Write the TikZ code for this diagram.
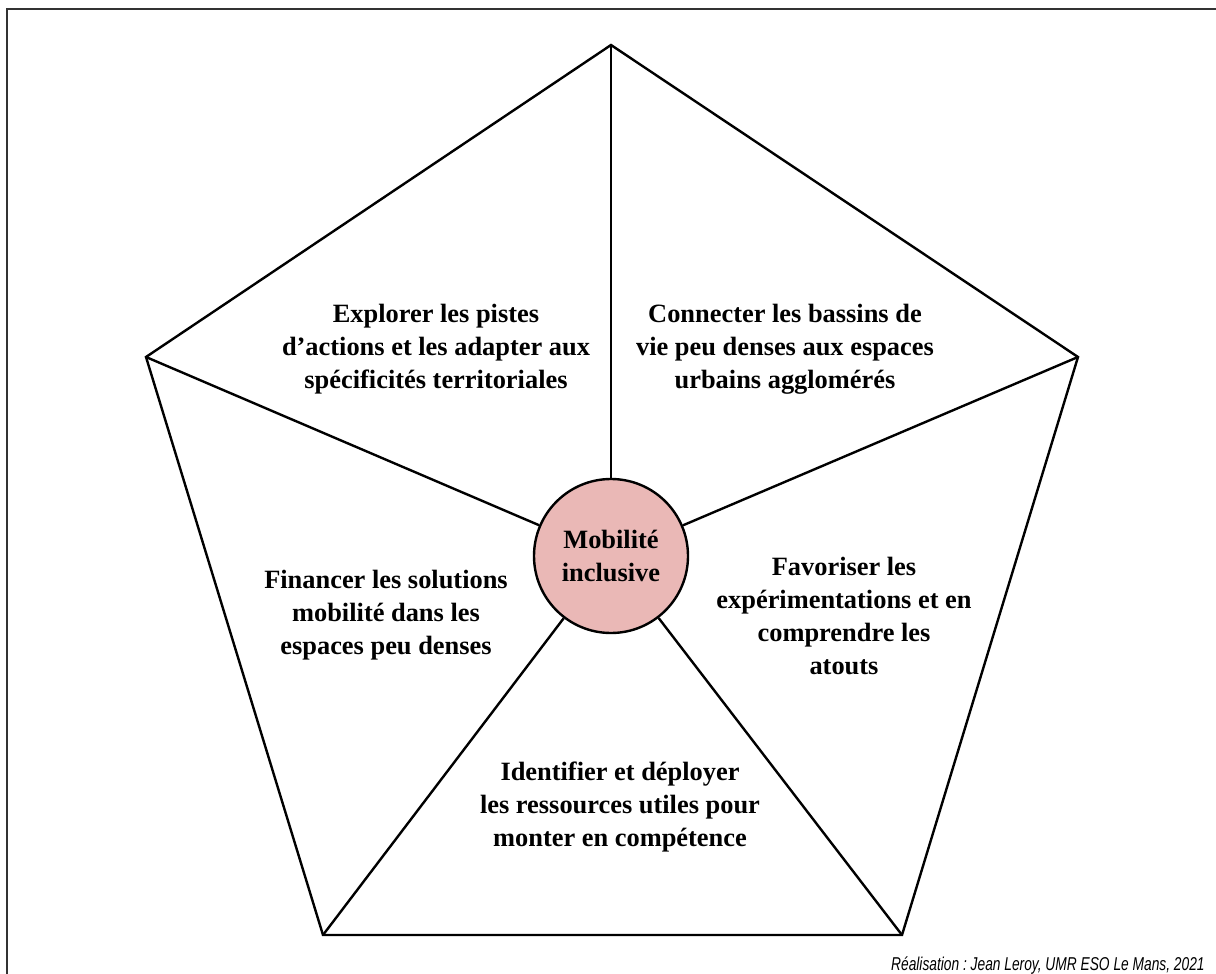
\documentclass[tikz,border=0pt]{standalone}
\usepackage{fontspec}
\setmainfont{Liberation Serif}
\newfontfamily\creditfont[FakeStretch=0.74]{Liberation Sans}
\usetikzlibrary{positioning}
\definecolor{hubpink}{RGB}{234,184,182}
\tikzset{
  axe/.style={font=\bfseries\fontsize{13.2pt}{16.5pt}\selectfont, align=center},
  spoke/.style={line width=1.2pt, line join=miter},
}

\begin{document}
\frenchspacing
\begin{tikzpicture}[x=0.5pt,y=-0.5pt]
  \useasboundingbox (0,0) rectangle (1216,974);

  % cadre
  \draw[line width=1.2pt, black!80] (7,974) -- (7,9) -- (1216,9);

  % sommets du pentagone
  \coordinate (N)  at (611,45);
  \coordinate (E)  at (1078,357);
  \coordinate (SE) at (902,935);
  \coordinate (SW) at (323,935);
  \coordinate (W)  at (146,357);
  \draw[spoke] (N) -- (E) -- (SE) -- (SW) -- (W) -- cycle;

  % centre
  \node[circle, draw, line width=1.2pt, fill=hubpink, minimum size=77pt,
        inner sep=0pt, axe] (hub) at (611,556) {Mobilité\\inclusive};
  \foreach \v in {N,E,SE,SW,W}
    \draw[spoke] (hub) -- (\v);

  % axes
  \node[axe] (explorer)   at (436,349) {Explorer les pistes\\d’actions et les adapter aux\\spécificités territoriales};
  \node[axe] (connecter)  at (785,349) {Connecter les bassins de\\vie peu denses aux espaces\\urbains agglomérés};
  \node[axe] (favoriser)  at (844,616) {Favoriser les\\expérimentations et en\\comprendre les\\atouts};
  \node[axe] (financer)   at (386,615) {Financer les solutions\\mobilité dans les\\espaces peu denses};
  \node[axe] (identifier) at (620,807) {Identifier et déployer\\les ressources utiles pour\\monter en compétence};

  % source
  \node[anchor=base east, inner sep=0pt,
        font=\creditfont\itshape\fontsize{9.3pt}{10pt}\selectfont] (credit) at (1205,970)
    {Réalisation : Jean Leroy, UMR ESO Le Mans, 2021};
\end{tikzpicture}
\end{document}
